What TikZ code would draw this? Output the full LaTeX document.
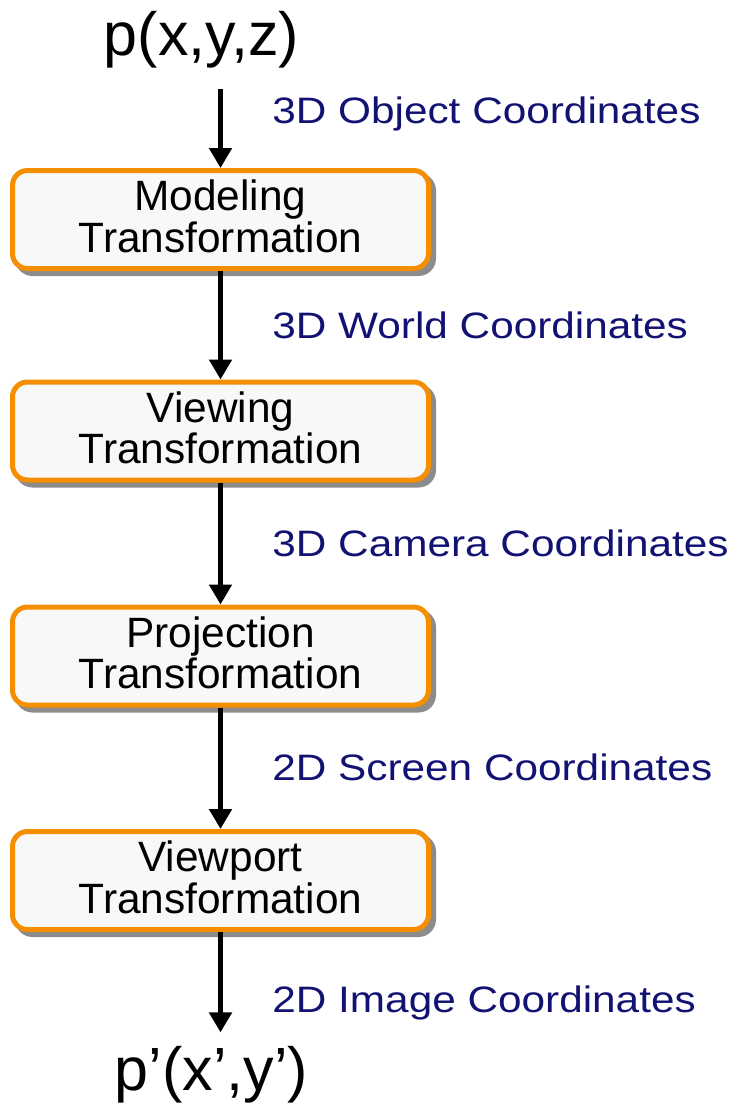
\documentclass[tikz,border=0pt]{standalone}
\usepackage{fontspec}
\setmainfont{Liberation Sans}
\newfontfamily\coordfont[FakeStretch=1.15]{Liberation Sans}
\usepackage{xcolor}
\usetikzlibrary{shadows,arrows.meta}
\definecolor{boxorange}{RGB}{245,142,0}
\definecolor{boxfill}{RGB}{248,248,248}
\definecolor{labelblue}{RGB}{18,18,115}

\begin{document}
\begin{tikzpicture}[x=0.5pt,y=-0.5pt,
    stage/.style={draw=boxorange,fill=boxfill,line width=2.5pt,rounded corners=7.5pt,
      minimum width=208pt,minimum height=49pt,align=center,text depth=3.5pt,
      font=\fontsize{21.2}{19}\selectfont,
      drop shadow={shadow xshift=2.5pt,shadow yshift=-2.5pt,fill=black!45,draw=black!45,opacity=1}},
    coord/.style={anchor=base west,inner sep=0pt,text=labelblue,font=\coordfont\fontsize{18.4}{22}\selectfont},
    point/.style={anchor=base,inner sep=6.5pt,font=\fontsize{30.5}{36}\selectfont},
    flow/.style={line width=2.5pt,-{Triangle[width=11pt,length=10pt]}}]
    \useasboundingbox (0,0) rectangle (734,1104);

    \node[point] (obj) at (201.5,55) {p(x,y,z)};
    \node[stage] (model) at (220.5,219.5) {Modeling\\Transformation};
    \node[stage] (view) at (220.5,431) {Viewing\\Transformation};
    \node[stage] (proj) at (220.5,656) {Projection\\Transformation};
    \node[stage] (port) at (220.5,880.5) {Viewport\\Transformation};
    \node[point] (img) at (211.5,1090) {p’(x’,y’)};

    \draw[flow,shorten <=4pt] (model.north |- obj.south) -- (model.north);
    \draw[flow] (model) -- (view);
    \draw[flow] (view) -- (proj);
    \draw[flow] (proj) -- (port);
    \draw[flow] (port.south) -- (port.south |- img.north);

    \node[coord] (objcoord) at (272,123) {3D Object Coordinates};
    \node[coord] (worldcoord) at (272,338) {3D World Coordinates};
    \node[coord] (camcoord) at (272,556) {3D Camera Coordinates};
    \node[coord] (screencoord) at (272,780) {2D Screen Coordinates};
    \node[coord] (imgcoord) at (272,1012) {2D Image Coordinates};
  \end{tikzpicture}
\end{document}
